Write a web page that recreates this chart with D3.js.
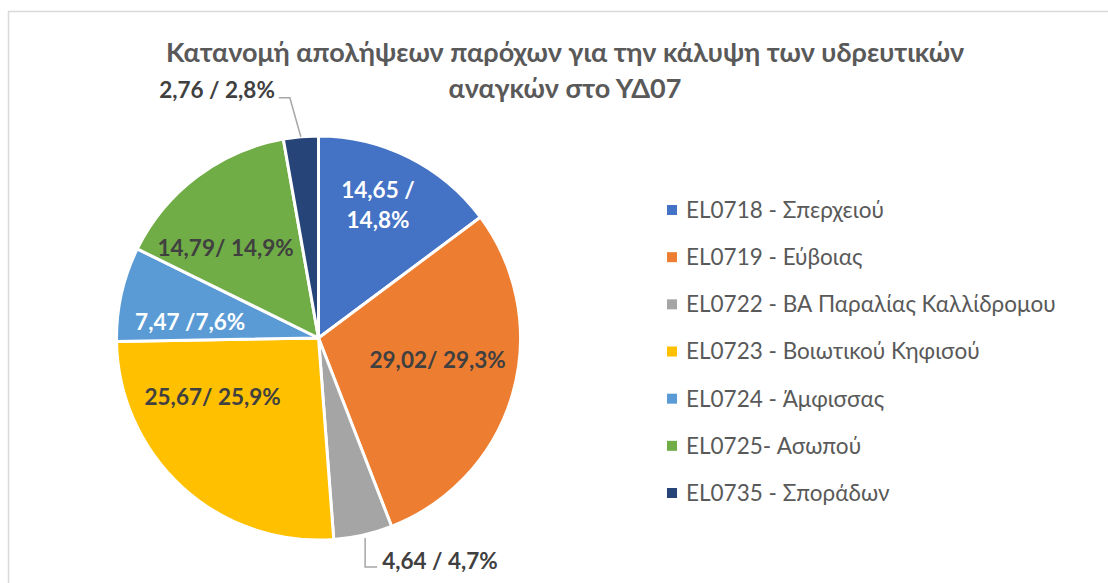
<!DOCTYPE html>
<html><head><meta charset="utf-8">
<script src="https://cdn.jsdelivr.net/npm/d3@7"></script>
<style>body{margin:0;background:#fff}svg{display:block}</style>
</head><body><svg id="c" width="1108" height="583"></svg>
<script>
const categories = ["EL0718 - Σπερχειού","EL0719 - Εύβοιας","EL0722 - ΒΑ Παραλίας Καλλίδρομου","EL0723 - Βοιωτικού Κηφισού","EL0724 - Άμφισσας","EL0725- Ασωπού","EL0735 - Σποράδων"];
const values = [14.65, 29.02, 4.64, 25.67, 7.47, 14.79, 2.76];
const percents = [14.8, 29.3, 4.7, 25.9, 7.6, 14.9, 2.8];
const labelTexts = [["14,65 /","14,8%"],["29,02/ 29,3%"],["4,64 / 4,7%"],["25,67/ 25,9%"],["7,47 /7,6%"],["14,79/ 14,9%"],["2,76 / 2,8%"]];
const titleLines = ["Κατανομή απολήψεων παρόχων για την κάλυψη των υδρευτικών","αναγκών στο ΥΔ07"];

const colors = ["#4472C4","#ED7D31","#A5A5A5","#FFC000","#5B9BD5","#70AD47","#264478"];
const labelFill = ["#fff","#404040","#404040","#404040","#fff","#404040","#404040"];
// label placement: [angle offset in degrees, radius fraction] for inside labels; null => outside with leader
const labelPlace = [[-2.5,0.72],[-5.5,0.6],null,[18.5,0.6],[-5.6,0.64],[-9,0.64],null];

const svg = d3.select("#c");
svg.append("rect").attr("x",8.5).attr("y",11.5).attr("width",1200).attr("height",700)
  .attr("fill","#fff").attr("stroke","#D9D9D9").attr("stroke-width",1.5);

const cx = 318.5, cy = 338, R = 202;
const g = svg.append("g").attr("transform",`translate(${cx},${cy})`);
const pie = d3.pie().sort(null).value(d=>d)(values);
const arc = d3.arc().innerRadius(0).outerRadius(R);
g.selectAll("path.slice").data(pie).join("path").attr("class","slice")
  .attr("d",arc).attr("fill",(d,i)=>colors[i]).attr("stroke","#fff").attr("stroke-width",3).attr("stroke-linejoin","round");

const fontLbl = "Lato, 'Noto Sans', sans-serif";
const lblSize = 22.5;
pie.forEach((d,i)=>{
  const mid = (d.startAngle+d.endAngle)/2;
  const lines = labelTexts[i];
  if (labelPlace[i]) {
    const a = mid + labelPlace[i][0]*Math.PI/180;
    const [x,y] = d3.pointRadial(a, R*labelPlace[i][1]);
    const t = g.append("text").attr("x",x).attr("y",y).attr("text-anchor","middle")
      .attr("font-family",fontLbl).attr("font-weight","bold").attr("font-size",lblSize).attr("fill",labelFill[i]);
    const lh = 30, n = lines.length;
    lines.forEach((s,k)=>{
      t.append("tspan").attr("x",x).attr("y",y + (k-(n-1)/2)*lh).attr("dy","0.35em").text(s);
    });
  } else {
    const [px,py] = d3.pointRadial(mid, R);
    let pts, tx, ty, anchor;
    if (Math.cos(mid) < 0) { // bottom
      pts = [[px+2,py+3],[px+2,py+32],[px+14,py+32]];
      tx = px+19; ty = py+34; anchor = "start";
    } else { // top
      pts = [[px,py],[px-11,py-39],[px-22,py-39]];
      tx = px-26; ty = py-39; anchor = "end";
    }
    g.append("polyline").attr("points",pts.map(p=>p.join(",")).join(" "))
      .attr("fill","none").attr("stroke","#A6A6A6").attr("stroke-width",1.5);
    g.append("text").attr("x",tx).attr("y",ty).attr("text-anchor",anchor)
      .attr("font-family",fontLbl).attr("font-weight","bold").attr("font-size",lblSize).attr("fill",labelFill[i])
      .text(lines[0]);
  }
});

// title
const title = svg.append("text").attr("text-anchor","middle").attr("font-family",fontLbl)
  .attr("font-weight","bold").attr("font-size",27).attr("fill","#595959");
titleLines.forEach((s,k)=>title.append("tspan").attr("x",565).attr("y",62+k*36).text(s));

// legend
const lg = svg.append("g").attr("transform","translate(667,0)");
const ly = d3.scalePoint().domain(categories).range([210,493]);
categories.forEach((c,i)=>{
  lg.append("rect").attr("x",0).attr("y",ly(c)-5).attr("width",10).attr("height",10).attr("fill",colors[i]);
  lg.append("text").attr("x",19).attr("y",ly(c)).attr("dy","0.35em").attr("font-family",fontLbl)
    .attr("font-size",22.5).attr("fill","#595959").text(c);
});
</script></body></html>
